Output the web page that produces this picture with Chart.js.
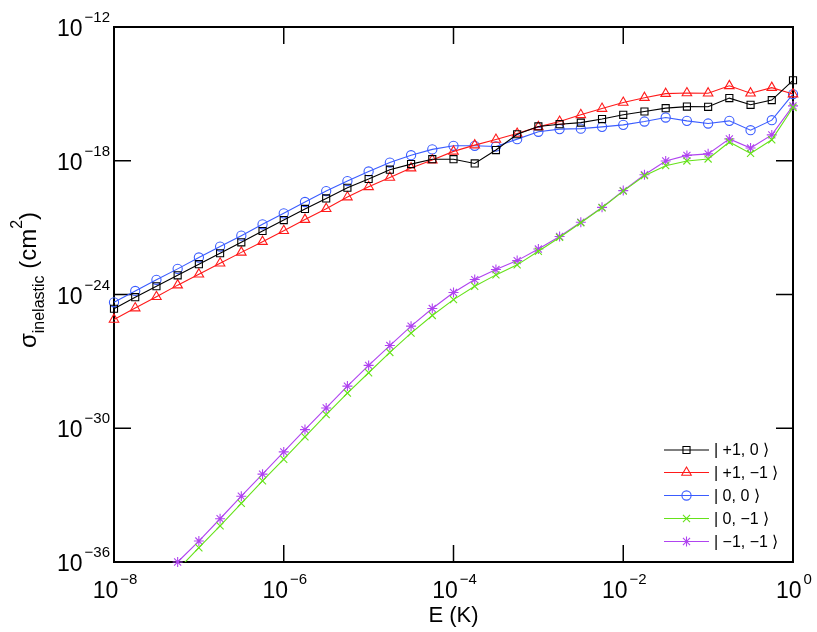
<!DOCTYPE html>
<html>
<head>
<meta charset="utf-8">
<script src="https://cdn.jsdelivr.net/npm/chart.js@4.4.0/dist/chart.umd.min.js"></script>
<style>
  html, body { margin: 0; padding: 0; background: #fff; }
</style>
</head>
<body>
<canvas id="grafico" width="817" height="632"></canvas>
<script>
// Energía de colisión, exponente de 10 (K): 4 puntos por década
const energiaLog = [-8, -7.75, -7.5, -7.25, -7, -6.75, -6.5, -6.25, -6, -5.75, -5.5, -5.25,
  -5, -4.75, -4.5, -4.25, -4, -3.75, -3.5, -3.25, -3, -2.75, -2.5, -2.25,
  -2, -1.75, -1.5, -1.25, -1, -0.75, -0.5, -0.25, 0];

// log10 de la sección eficaz inelástica (cm^2) para cada estado
const sigmaMas1_0 = [-24.64, -24.12, -23.63, -23.14, -22.64, -22.15, -21.66, -21.15, -20.66, -20.16, -19.69, -19.21,
  -18.82, -18.40, -18.15, -17.93, -17.93, -18.12, -17.52, -16.81, -16.46, -16.36, -16.29, -16.13,
  -15.94, -15.79, -15.64, -15.57, -15.58, -15.19, -15.49, -15.28, -14.39];
const sigmaMas1_Menos1 = [-25.12, -24.61, -24.10, -23.58, -23.09, -22.60, -22.11, -21.63, -21.14, -20.64, -20.15, -19.63,
  -19.17, -18.75, -18.33, -17.97, -17.58, -17.30, -17.05, -16.78, -16.48, -16.24, -15.94, -15.66,
  -15.39, -15.17, -14.99, -14.96, -14.97, -14.64, -14.97, -14.72, -15.01];
const sigma0_0 = [-24.35, -23.84, -23.34, -22.85, -22.34, -21.85, -21.36, -20.85, -20.36, -19.85, -19.36, -18.91,
  -18.48, -18.08, -17.75, -17.49, -17.33, -17.33, -17.36, -17.03, -16.70, -16.58, -16.56, -16.48,
  -16.39, -16.24, -16.06, -16.21, -16.33, -16.21, -16.63, -16.18, -15.01];
const sigma0_Menos1 = [null, null, null, -36.35, -35.36, -34.38, -33.37, -32.36, -31.39, -30.39, -29.39, -28.42,
  -27.51, -26.60, -25.73, -24.94, -24.23, -23.63, -23.12, -22.67, -22.06, -21.44, -20.78, -20.11,
  -19.36, -18.67, -18.22, -18.01, -17.92, -17.16, -17.67, -17.06, -15.61];
const sigmaMenos1_Menos1 = [null, null, null, -36.0, -35.06, -34.06, -33.05, -32.06, -31.06, -30.06, -29.09, -28.11,
  -27.18, -26.29, -25.42, -24.63, -23.91, -23.33, -22.88, -22.48, -21.96, -21.40, -20.76, -20.09,
  -19.34, -18.63, -18.01, -17.76, -17.69, -17.02, -17.43, -16.84, -15.54];

// Etiquetas de los ejes (exponentes)
const ticksX = [-8, -6, -4, -2, 0];
const ticksY = [-36, -30, -24, -18, -12];
const etiquetasLeyenda = ['| +1, 0 \u27E9', '| +1, \u22121 \u27E9', '| 0, 0 \u27E9', '| 0, \u22121 \u27E9', '| \u22121, \u22121 \u27E9'];

const FUENTE = '"Liberation Sans", Arial, sans-serif';

function armarSerie(valores) {
  return energiaLog.map((e, i) => ({ x: Math.pow(10, e), y: valores[i] === null ? null : Math.pow(10, valores[i]) }));
}

function serie(label, valores, color, estilo, radio, clip) {
  return {
    label: label,
    data: armarSerie(valores),
    borderColor: color,
    backgroundColor: 'rgba(0,0,0,0)',
    pointBorderColor: color,
    pointBackgroundColor: 'rgba(0,0,0,0)',
    pointStyle: estilo,
    pointRadius: radio,
    pointBorderWidth: 1.1,
    borderWidth: 1.1,
    tension: 0,
    clip: clip
  };
}

// Escribe 10^exp con superíndice
function potencia(ctx, exp, x, y, alinear) {
  const grande = '23px ' + FUENTE;
  const chica = '15px ' + FUENTE;
  const textoExp = exp < 0 ? '\u2212' + Math.abs(exp) : String(exp);
  ctx.font = grande;
  const wb = ctx.measureText('10').width;
  ctx.font = chica;
  const we = ctx.measureText(textoExp).width;
  const total = wb + 2 + we;
  const x0 = alinear === 'right' ? x - total : x - total / 2;
  ctx.textAlign = 'left';
  ctx.textBaseline = 'alphabetic';
  ctx.font = grande;
  ctx.fillText('10', x0, y);
  ctx.font = chica;
  ctx.fillText(textoExp, x0 + wb + 2, y - 14);
}

const ejes = {
  id: 'ejes',
  beforeDatasetsDraw(chart) {
    const { ctx, chartArea: a, scales: { x, y } } = chart;
    ctx.save();
    ctx.strokeStyle = '#000';
    ctx.lineWidth = 1.5;
    const largo = 17;
    ticksX.forEach(d => {
      const px = x.getPixelForValue(Math.pow(10, d));
      ctx.beginPath();
      ctx.moveTo(px, a.bottom); ctx.lineTo(px, a.bottom - largo);
      ctx.moveTo(px, a.top); ctx.lineTo(px, a.top + largo);
      ctx.stroke();
    });
    ticksY.forEach(d => {
      const py = y.getPixelForValue(Math.pow(10, d));
      ctx.beginPath();
      ctx.moveTo(a.left, py); ctx.lineTo(a.left + largo, py);
      ctx.moveTo(a.right, py); ctx.lineTo(a.right - largo, py);
      ctx.stroke();
    });
    ctx.lineWidth = 2;
    ctx.strokeRect(a.left, a.top, a.right - a.left, a.bottom - a.top);
    ctx.restore();
  },
  afterDraw(chart) {
    const { ctx, chartArea: a, scales: { x, y } } = chart;
    ctx.save();
    ctx.fillStyle = '#000';
    ticksX.forEach(d => potencia(ctx, d, x.getPixelForValue(Math.pow(10, d)) + 1, a.bottom + 36, 'center'));
    ticksY.forEach(d => potencia(ctx, d, a.left - 4, y.getPixelForValue(Math.pow(10, d)) + 9, 'right'));

    // Título eje X
    ctx.font = '22px ' + FUENTE;
    ctx.textAlign = 'center';
    ctx.fillText('E (K)', (a.left + a.right) / 2, 622);

    // Título eje Y: σ_inelastic (cm^2)
    const partes = [
      { t: '\u03C3', f: '24px ', dy: 0 },
      { t: 'inelastic', f: '16px ', dy: 8 },
      { t: ' (cm', f: '24px ', dy: 0 },
      { t: '2', f: '16px ', dy: -14 },
      { t: ')', f: '24px ', dy: 0 }
    ];
    let total = 0;
    partes.forEach(p => { ctx.font = p.f + FUENTE; p.w = ctx.measureText(p.t).width; total += p.w; });
    ctx.translate(36, 280);
    ctx.rotate(-Math.PI / 2);
    ctx.textAlign = 'left';
    let cx = -total / 2;
    partes.forEach(p => { ctx.font = p.f + FUENTE; ctx.fillText(p.t, cx, p.dy); cx += p.w; });
    ctx.restore();

    // Leyenda sin recuadro
    ctx.save();
    const filas = [450, 472.5, 495.5, 518.5, 541.5];
    chart.data.datasets.forEach((ds, i) => {
      const fy = filas[i];
      ctx.strokeStyle = ds.borderColor;
      ctx.fillStyle = 'rgba(0,0,0,0)';
      ctx.lineWidth = 1.1;
      ctx.beginPath();
      ctx.moveTo(664, fy); ctx.lineTo(709, fy);
      ctx.stroke();
      Chart.helpers.drawPoint(ctx, {
        pointStyle: ds.pointStyle, radius: ds.pointRadius, borderWidth: 1.1, rotation: 0
      }, 686.5, fy);
      ctx.fillStyle = '#000';
      ctx.font = '16px ' + FUENTE;
      ctx.textAlign = 'left';
      ctx.textBaseline = 'middle';
      ctx.fillText(etiquetasLeyenda[i], 714, fy + 1);
    });
    ctx.restore();
  }
};

const sinRecorte = false;
const recorteAbajo = { left: false, top: false, right: false, bottom: 0 };

new Chart(document.getElementById('grafico'), {
  type: 'line',
  data: {
    datasets: [
      serie(etiquetasLeyenda[0], sigmaMas1_0, '#000000', 'rect', 5, sinRecorte),
      serie(etiquetasLeyenda[1], sigmaMas1_Menos1, '#ff1a1a', 'triangle', 5.5, sinRecorte),
      serie(etiquetasLeyenda[2], sigma0_0, '#3a5cff', 'circle', 4.6, sinRecorte),
      serie(etiquetasLeyenda[3], sigma0_Menos1, '#66e21a', 'crossRot', 5, recorteAbajo),
      serie(etiquetasLeyenda[4], sigmaMenos1_Menos1, '#b044f0', 'star', 5, sinRecorte)
    ]
  },
  options: {
    responsive: false,
    animation: false,
    devicePixelRatio: 1,
    layout: { padding: { left: 114, right: 24, top: 27, bottom: 70 } },
    plugins: { legend: { display: false }, tooltip: { enabled: false } },
    scales: {
      x: { type: 'logarithmic', min: 1e-8, max: 1, display: false },
      y: { type: 'logarithmic', min: 1e-36, max: 1e-12, display: false }
    }
  },
  plugins: [ejes]
});
</script>
</body>
</html>
